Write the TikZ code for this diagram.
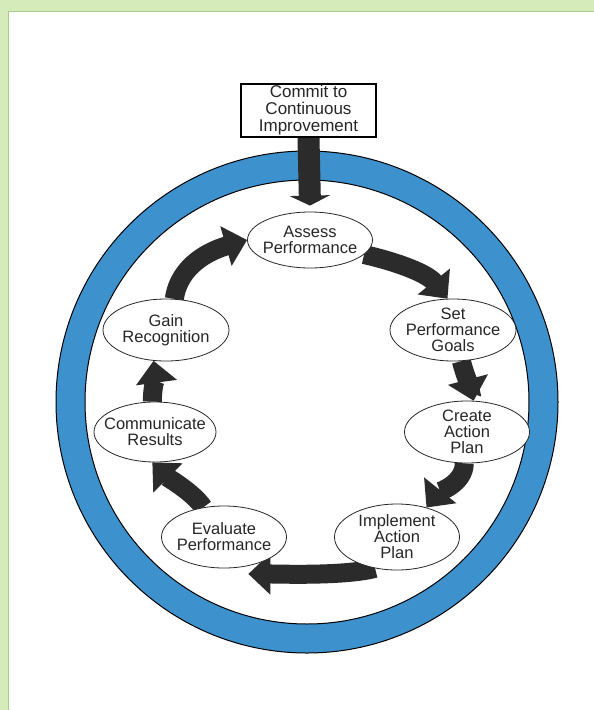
\documentclass[tikz,border=0pt]{standalone}
\usepackage{fontspec}
\setmainfont{Liberation Sans}
\usetikzlibrary{shapes.geometric,arrows.meta,backgrounds}
\definecolor{ringblue}{HTML}{3D91CD}
\definecolor{arrowdark}{HTML}{2B2B2B}
\definecolor{greenbg}{HTML}{D6EBBA}
\definecolor{greenline}{HTML}{A9CC8C}
\definecolor{inkgray}{HTML}{262626}
\begin{document}
\begin{tikzpicture}[x=1pt,y=-1pt,
  stage/.style={ellipse, draw=inkgray, line width=0.8pt, fill=white, align=center,
    inner xsep=-12pt, inner ysep=0pt, minimum width=125pt, minimum height=60pt,
    font=\fontsize{16.5}{16}\selectfont, text=inkgray},
  commitbox/.style={draw=black, line width=2pt, fill=white, align=center,
    minimum width=135pt, minimum height=53pt, inner sep=0pt,
    font=\fontsize{17}{17}\selectfont, text=inkgray},
  cyclearrow/.style={draw=arrowdark, line width=19pt, -{Triangle[length=22pt,width=40pt]}},
  commitarrow/.style={draw=arrowdark, line width=22pt, -{Triangle[length=10pt,width=40pt]}}
]
\useasboundingbox (0,0) rectangle (594,710);

% nodes
\node[commitbox] (commit) at (308.5,110.5) {Commit to\\Continuous\\Improvement};
\node[stage, minimum height=56pt] (assess) at (310,240) {Assess\\Performance};
\node[stage, minimum height=62pt, minimum width=126pt] (set) at (453,330) {Set\\Performance\\Goals};
\node[stage, minimum height=62pt] (create) at (467,432) {Create\\Action\\Plan};
\node[stage, minimum height=66pt] (implement) at (397,537) {Implement\\Action\\Plan};
\node[stage, minimum height=62pt] (evaluate) at (224,537) {Evaluate\\Performance};
\node[stage, minimum height=60pt, minimum width=122pt] (communicate) at (155,432) {Communicate\\Results};
\node[stage, minimum height=62pt, minimum width=126pt] (gain) at (166,330) {Gain\\Recognition};

\begin{pgfonlayer}{background}
  % panel
  \fill[greenbg] (0,0) rectangle (594,710);
  \fill[white] (9,12) rectangle (594,710);
  \draw[greenline, line width=1.5pt] (8.5,710) -- (8.5,11.5) -- (594,11.5);
  % ring
  \fill[ringblue, even odd rule] (307,402) circle[radius=251pt] (307,402) circle[radius=222pt];
  \draw[black, line width=1pt] (307,402) circle[radius=251pt];
  \draw[black, line width=1pt] (307,402) circle[radius=222pt];
  % arrows
  \draw[commitarrow] (commit.south) -- ([yshift=6pt]assess.north);
  \draw[cyclearrow] (gain.75) .. controls +(5,-35) and +(-35,10) .. (assess.west);
  \draw[cyclearrow] (assess.-15) .. controls +(35,8) and +(-20,-25) .. (set.100);
  \draw[cyclearrow] (set.-75) .. controls +(4,15) and +(-4,-15) .. (create.78);
  \draw[cyclearrow] (create.-95) .. controls +(0,20) and +(12,-15) .. (implement.45);
  \draw[cyclearrow] (implement.235) .. controls +(-30,8) and +(30,0) .. ([yshift=-8pt]evaluate.-50);
  \draw[cyclearrow] (evaluate.125) .. controls +(-10,-15) and +(15,15) .. (communicate.-95);
  \draw[cyclearrow] (communicate.95) .. controls +(0,-15) and +(2,15) .. (gain.-112);
\end{pgfonlayer}
\end{tikzpicture}
\end{document}
